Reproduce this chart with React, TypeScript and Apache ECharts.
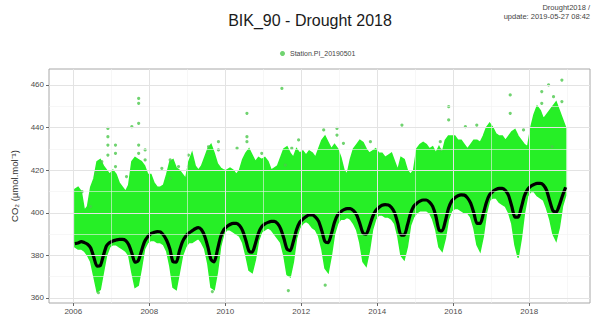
import React, { useEffect, useRef } from "react";
import * as echarts from "echarts";

// ---- data ----
const YEARS = [2006, 2007, 2008, 2009, 2010, 2011, 2012, 2013, 2014, 2015, 2016, 2017, 2018];

// smoothed curve (black), monthly values per year, ppm
const CURVE = [
  [385.5, 385.8, 386.5, 386.0, 385.2, 383.5, 379.0, 375.0, 375.2, 380.0, 384.5, 386.0],
  [386.8, 387.2, 387.5, 387.5, 387.0, 385.0, 381.0, 376.8, 377.5, 382.0, 386.5, 388.8],
  [390.2, 390.8, 391.2, 391.0, 389.5, 387.0, 383.0, 377.0, 376.8, 382.0, 386.5, 389.0],
  [390.5, 391.5, 392.5, 393.0, 392.0, 389.0, 384.0, 378.0, 377.0, 382.5, 388.5, 392.0],
  [393.5, 394.5, 395.0, 395.0, 394.0, 391.5, 387.0, 382.0, 381.5, 385.5, 390.5, 393.5],
  [394.8, 395.5, 396.0, 396.0, 395.0, 392.5, 388.0, 383.0, 382.2, 386.5, 392.0, 395.5],
  [397.0, 398.2, 399.0, 399.0, 398.0, 396.0, 391.5, 386.5, 386.0, 390.0, 395.5, 399.0],
  [400.5, 401.5, 402.0, 402.0, 401.0, 399.0, 395.0, 390.5, 390.0, 393.5, 398.0, 401.0],
  [402.5, 403.5, 403.8, 403.7, 402.5, 400.0, 395.0, 389.5, 389.5, 394.0, 399.5, 403.0],
  [404.5, 405.5, 406.0, 406.0, 405.0, 403.0, 398.5, 392.0, 391.5, 396.0, 402.0, 405.5],
  [407.0, 408.0, 408.4, 408.3, 407.0, 404.5, 400.0, 395.0, 395.0, 399.5, 405.0, 408.5],
  [410.0, 411.0, 411.5, 411.5, 410.5, 408.0, 403.0, 398.0, 398.0, 402.5, 408.0, 411.0],
  [412.5, 413.3, 413.8, 413.8, 413.0, 410.5, 405.5, 401.0, 400.3, 403.5, 408.0, 412.0],
];

// lower edge of the dense cloud of hourly observations, monthly
const LOWER = [
  [384, 383, 383, 382, 380, 377, 370, 363, 364, 372, 380, 384],
  [385, 385, 384, 383, 382, 380, 372, 365, 366, 374, 383, 386],
  [387, 387, 386, 386, 385, 382, 375, 365, 364, 372, 380, 384],
  [386, 386, 387, 388, 386, 383, 376, 365, 364, 372, 384, 390],
  [392, 392, 391, 390, 389, 386, 380, 373, 372, 378, 387, 391],
  [392, 393, 392, 390, 388, 386, 380, 371, 370, 377, 388, 393],
  [395, 396, 395, 393, 392, 389, 383, 374, 372, 380, 390, 395],
  [397, 397, 398, 397, 395, 392, 386, 377, 375, 382, 392, 397],
  [399, 399, 398, 398, 397, 395, 389, 380, 378, 384, 394, 398],
  [400, 401, 401, 401, 400, 397, 392, 384, 382, 388, 397, 401],
  [402, 402, 401, 400, 400, 398, 393, 385, 382, 389, 400, 406],
  [407, 407, 405, 404, 403, 400, 395, 385, 379, 388, 400, 408],
  [410, 410, 408, 407, 406, 402, 397, 390, 387, 393, 403, 408],
];

// upper edge of the dense cloud, monthly
const UPPER = [
  [411, 412, 410, 401, 403, 412, 416, 424, 425, 422, 420, 418],
  [420, 418, 414, 412, 410, 413, 424, 426, 425, 424, 422, 418],
  [418, 414, 412, 412, 413, 418, 424, 425, 421, 420, 418, 416],
  [424, 428, 422, 420, 422, 426, 430, 432, 428, 423, 421, 420],
  [420, 421, 420, 418, 420, 425, 428, 430, 427, 424, 426, 425],
  [426, 424, 420, 421, 422, 426, 430, 431, 428, 426, 430, 428],
  [429, 427, 429, 428, 426, 430, 434, 436, 433, 430, 432, 430],
  [426, 420, 418, 425, 430, 432, 434, 433, 430, 428, 429, 430],
  [428, 428, 426, 427, 428, 424, 420, 426, 425, 420, 418, 420],
  [430, 432, 433, 432, 430, 431, 428, 431, 428, 434, 436, 436],
  [436, 434, 434, 432, 430, 432, 434, 434, 433, 436, 440, 442],
  [440, 437, 436, 436, 434, 436, 438, 439, 436, 434, 432, 431],
  [440, 446, 450, 448, 444, 446, 448, 450, 452, 448, 444, 440],
];

// isolated observations outside the dense cloud [decimal year, ppm]
const OUTLIERS: [number, number][] = [
  [2006.23, 409.9], [2006.45, 402.9], [2006.6, 418.5], [2006.75, 424],
  [2006.91, 439.6], [2006.91, 435.7], [2006.91, 431.8], [2006.91, 427.1],
  [2007.11, 431.8], [2007.11, 427.9], [2007.11, 421.7], [2007.4, 417],
  [2007.54, 440.4], [2007.72, 453.7], [2007.72, 451.4], [2007.72, 442],
  [2007.72, 431.8], [2007.72, 427.9], [2007.89, 429.5], [2007.89, 424.8],
  [2008.33, 420.9], [2008.55, 424.8], [2008.55, 416.2], [2008.77, 421.7],
  [2009.03, 427.1], [2009.03, 421.7], [2009.56, 431], [2009.56, 427.9],
  [2009.82, 433.4], [2009.82, 429.5], [2010.31, 430.3], [2010.57, 446.7],
  [2010.57, 435.7], [2010.57, 433.4], [2010.96, 427.9], [2011.49, 458.4],
  [2011.58, 422.4], [2011.75, 430.3], [2011.93, 434.2], [2012.59, 438.9],
  [2012.94, 439.6], [2012.94, 436.5], [2013.11, 432.6], [2013.6, 431],
  [2013.82, 433.4], [2014.65, 441.2], [2015.66, 433.4], [2015.66, 429.5],
  [2015.88, 449.8], [2015.88, 443.6], [2016.32, 440.4], [2016.62, 441.2],
  [2017.5, 455.3], [2017.5, 446.7], [2017.85, 438.9], [2018.33, 456.9],
  [2018.33, 451.4], [2018.51, 460], [2018.6, 431], [2018.64, 454.5],
  [2018.64, 449], [2018.86, 462.3], [2018.86, 452.2],
  [2006.66, 362.5], [2011.66, 363.5], [2012.63, 366], [2009.66, 363],
];

const X_MAJOR = [2006, 2008, 2010, 2012, 2014, 2016, 2018];
const X_MINOR = [2007, 2009, 2011, 2013, 2015, 2017, 2019];
const Y_MAJOR = [360, 380, 400, 420, 440, 460];
const Y_MINOR = [370, 390, 410, 430, 450];

const GREEN = "#26ef26";
const FONT = "Liberation Sans, Arial, sans-serif";

function monthly(table: number[][]): [number, number][] {
  const out: [number, number][] = [];
  YEARS.forEach((y, yi) => {
    table[yi].forEach((v, m) => out.push([y + (m + 0.5) / 12, v]));
  });
  return out;
}

export default function App() {
  const ref = useRef<HTMLDivElement>(null);

  useEffect(() => {
    document.body.style.margin = "0";
    if (!ref.current) return;
    const chart = echarts.init(ref.current, null, { renderer: "svg" });

    const curvePts = monthly(CURVE);
    const lowerPts = monthly(LOWER);
    const upperPts = monthly(UPPER);

    const gridLines: any[] = [
      ...Y_MINOR.map((v) => ({ yAxis: v, lineStyle: { color: "#f2f2f2", width: 0.6, type: "solid" } })),
      ...X_MINOR.map((v) => ({ xAxis: v, lineStyle: { color: "#f2f2f2", width: 0.6, type: "solid" } })),
      ...Y_MAJOR.map((v) => ({ yAxis: v, lineStyle: { color: "#e3e3e3", width: 1, type: "solid" } })),
      ...X_MAJOR.map((v) => ({ xAxis: v, lineStyle: { color: "#e3e3e3", width: 1, type: "solid" } })),
    ];

    chart.setOption({
      animation: false,
      backgroundColor: "#ffffff",
      textStyle: { fontFamily: FONT },
      graphic: [
        {
          type: "text",
          x: 310,
          y: 20,
          style: {
            text: "BIK_90 - Drought 2018",
            fontSize: 16,
            fontFamily: FONT,
            fill: "#1a1a1a",
            align: "center",
            verticalAlign: "middle",
          },
        },
        {
          type: "text",
          x: 590,
          y: 3,
          style: {
            text: "Drought2018 /\nupdate: 2019-05-27 08:42",
            fontSize: 7.5,
            lineHeight: 9,
            fontFamily: FONT,
            fill: "#444444",
            align: "right",
            verticalAlign: "top",
          },
        },
      ],
      legend: {
        data: [{ name: "Station.PI_20190501", icon: "circle" }],
        left: 280,
        top: 50,
        itemWidth: 5,
        itemHeight: 5,
        itemGap: 4,
        padding: 0,
        textStyle: { fontSize: 7, color: "#444444", fontFamily: FONT },
        selectedMode: false,
      },
      grid: {
        left: 49,
        right: 8,
        top: 69,
        bottom: 17,
        show: true,
        borderColor: "#a8a8a8",
        borderWidth: 1,
        backgroundColor: "#ffffff",
      },
      xAxis: {
        type: "value",
        min: 2005.36,
        max: 2019.6,
        axisLine: { show: false },
        splitLine: { show: false },
        axisTick: {
          show: true,
          length: 3,
          customValues: X_MAJOR,
          lineStyle: { color: "#666666", width: 1 },
        },
        axisLabel: {
          customValues: X_MAJOR,
          formatter: (v: number) => String(Math.round(v)),
          fontSize: 8,
          color: "#4d4d4d",
          margin: 4,
          fontFamily: FONT,
        },
      },
      yAxis: {
        type: "value",
        min: 357.65,
        max: 467.5,
        name: "CO\u2082 (\u00b5mol.mol\u207b\u00b9)",
        nameLocation: "middle",
        nameGap: 29,
        nameRotate: 90,
        nameTextStyle: { fontSize: 9.5, color: "#333333", fontFamily: FONT },
        axisLine: { show: false },
        splitLine: { show: false },
        axisTick: {
          show: true,
          length: 3,
          customValues: Y_MAJOR,
          lineStyle: { color: "#666666", width: 1 },
        },
        axisLabel: {
          customValues: Y_MAJOR,
          formatter: (v: number) => String(Math.round(v)),
          fontSize: 8,
          color: "#4d4d4d",
          margin: 5,
          fontFamily: FONT,
        },
      },
      series: [
        {
          name: "grid",
          type: "line",
          data: [[2012, 400]],
          symbol: "none",
          lineStyle: { width: 0 },
          silent: true,
          z: 1,
          markLine: {
            silent: true,
            symbol: ["none", "none"],
            label: { show: false },
            animation: false,
            data: gridLines,
          },
        },
        {
          name: "cloud",
          type: "custom",
          z: 2,
          silent: true,
          data: [[2012, 400]],
          renderItem: (_params: any, api: any) => {
            const up = upperPts.map((p) => api.coord(p));
            const lo = lowerPts.map((p) => api.coord(p)).reverse();
            return {
              type: "polygon",
              shape: { points: up.concat(lo) },
              style: { fill: GREEN, stroke: GREEN, lineWidth: 1.5 },
            };
          },
        },
        {
          name: "Station.PI_20190501",
          type: "scatter",
          z: 3,
          data: OUTLIERS,
          symbol: "circle",
          symbolSize: 3.2,
          itemStyle: { color: "#4cc84c" },
        },
        {
          name: "curve",
          type: "line",
          z: 4,
          data: curvePts,
          smooth: 0.25,
          symbol: "none",
          lineStyle: { color: "#000000", width: 3.2 },
        },
      ],
    });

    return () => chart.dispose();
  }, []);

  return <div ref={ref} style={{ width: 598, height: 320 }} />;
}
